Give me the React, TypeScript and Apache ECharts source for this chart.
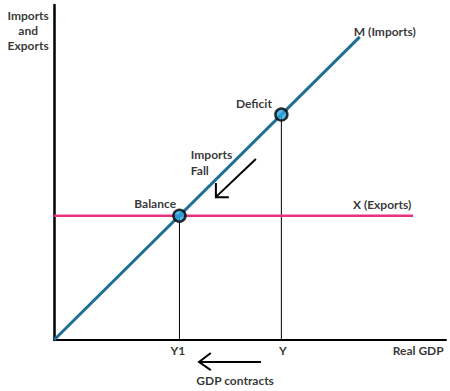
import React, { useEffect, useRef } from "react";
import * as echarts from "echarts";

// Data (Real GDP on x, Imports/Exports on y), arbitrary units 0..100
const importsLine: [number, number][] = [[0, 0], [78, 90.5]];
const exportsLine: [number, number][] = [[0, 37.1], [91.6, 37.1]];
const gdpLabels = ["Y1", "Y"];
const gdpValues = [32, 58];
const pointNames = ["Balance", "Deficit"];
const pointValues = [37.1, 67.3];

// annotation texts: [x, y, text]
const textLabels: [number, number, string][] = [
  [51.0, 70.7, "Deficit"],
  [25.8, 40.6, "Balance"],
  [84.4, 92.2, "M (Imports)"],
  [83.7, 40.3, "X (Exports)"],
  [31.6, -3.0, "Y1"],
  [58.4, -3.0, "Y"],
  [92.9, -3.0, "Real GDP"],
  [46.2, -12.2, "GDP contracts"],
  [-6.6, 92.5, "Imports\nand\nExports"],
];
const leftLabels: [number, number, string][] = [[34.9, 53.1, "Imports\nFall"]];

// arrows: shaft and head polylines
const arrowShafts: [number, number][][] = [
  [[51.5, 54.0], [41.4, 42.8]],
  [[52.8, -6.57], [37.1, -6.57]],
];
const arrowHeads: [number, number][][] = [
  [[41.3, 46.9], [41.3, 42.6], [44.6, 42.6]],
  [[40.0, -3.88], [37.0, -6.57], [40.0, -9.0]],
];

const FONT = "Lato";

export default function App() {
  const ref = useRef<HTMLDivElement>(null);
  useEffect(() => {
    if (!ref.current) return;
    const chart = echarts.init(ref.current, undefined, { renderer: "svg" });
    const series: any[] = [];
    series.push({
      type: "line",
      data: importsLine,
      symbol: "none",
      lineStyle: { color: "#1f6e94", width: 3 },
      z: 3,
    });
    series.push({
      type: "line",
      data: exportsLine,
      symbol: "none",
      lineStyle: { color: "#e8317f", width: 2.5 },
      z: 2,
    });
    gdpValues.forEach((g, i) => {
      series.push({
        type: "line",
        data: [[g, 0], [g, pointValues[i]]],
        symbol: "none",
        lineStyle: { color: "#000", width: 1 },
        z: 1,
      });
    });
    series.push({
      type: "scatter",
      data: gdpValues.map((g, i) => ({ name: pointNames[i], value: [g, pointValues[i]] })),
      symbol: "circle",
      symbolSize: 12,
      itemStyle: { color: "#2aa8e2", borderColor: "#000", borderWidth: 2.5 },
      z: 5,
    });
    arrowShafts.forEach((s) => {
      series.push({
        type: "line",
        data: s,
        symbol: "none",
        clip: false,
        lineStyle: { color: "#000", width: 2 },
      });
    });
    arrowHeads.forEach((s) => {
      series.push({
        type: "line",
        data: s,
        symbol: "none",
        clip: false,
        lineStyle: { color: "#000", width: 2, join: "miter" },
      });
    });
    series.push({
      type: "scatter",
      clip: false,
      symbolSize: 0,
      silent: true,
      data: textLabels.map((t) => ({ value: [t[0], t[1]], name: t[2] })),
      label: {
        show: true,
        position: "inside",
        formatter: (p: any) => p.name,
        color: "#000",
        fontFamily: FONT,
        fontWeight: "bold",
        fontSize: 12,
        lineHeight: 15,
        align: "center",
        verticalAlign: "middle",
      },
      z: 6,
    });
    series.push({
      type: "scatter",
      clip: false,
      symbolSize: 0,
      silent: true,
      data: leftLabels.map((t) => ({ value: [t[0], t[1]], name: t[2] })),
      label: {
        show: true,
        position: "inside",
        formatter: (p: any) => p.name,
        color: "#000",
        fontFamily: FONT,
        fontWeight: "bold",
        fontSize: 12,
        lineHeight: 16,
        align: "left",
        verticalAlign: "middle",
      },
      z: 6,
    });
    chart.setOption({
      animation: false,
      backgroundColor: "#fff",
      grid: { left: 54, right: 4, top: 5, bottom: 51, containLabel: false },
      xAxis: {
        type: "value",
        min: 0,
        max: 100,
        axisLine: { show: true, onZero: false, lineStyle: { color: "#000", width: 2 } },
        axisTick: { show: false },
        axisLabel: { show: false },
        splitLine: { show: false },
      },
      yAxis: {
        type: "value",
        min: 0,
        max: 100,
        axisLine: { show: true, onZero: false, lineStyle: { color: "#000", width: 2.5 } },
        axisTick: { show: false },
        axisLabel: { show: false },
        splitLine: { show: false },
      },
      series,
    });
    return () => chart.dispose();
  }, []);
  return <div ref={ref} style={{ width: 450, height: 391, position: "absolute", left: 0, top: 0 }} />;
}
